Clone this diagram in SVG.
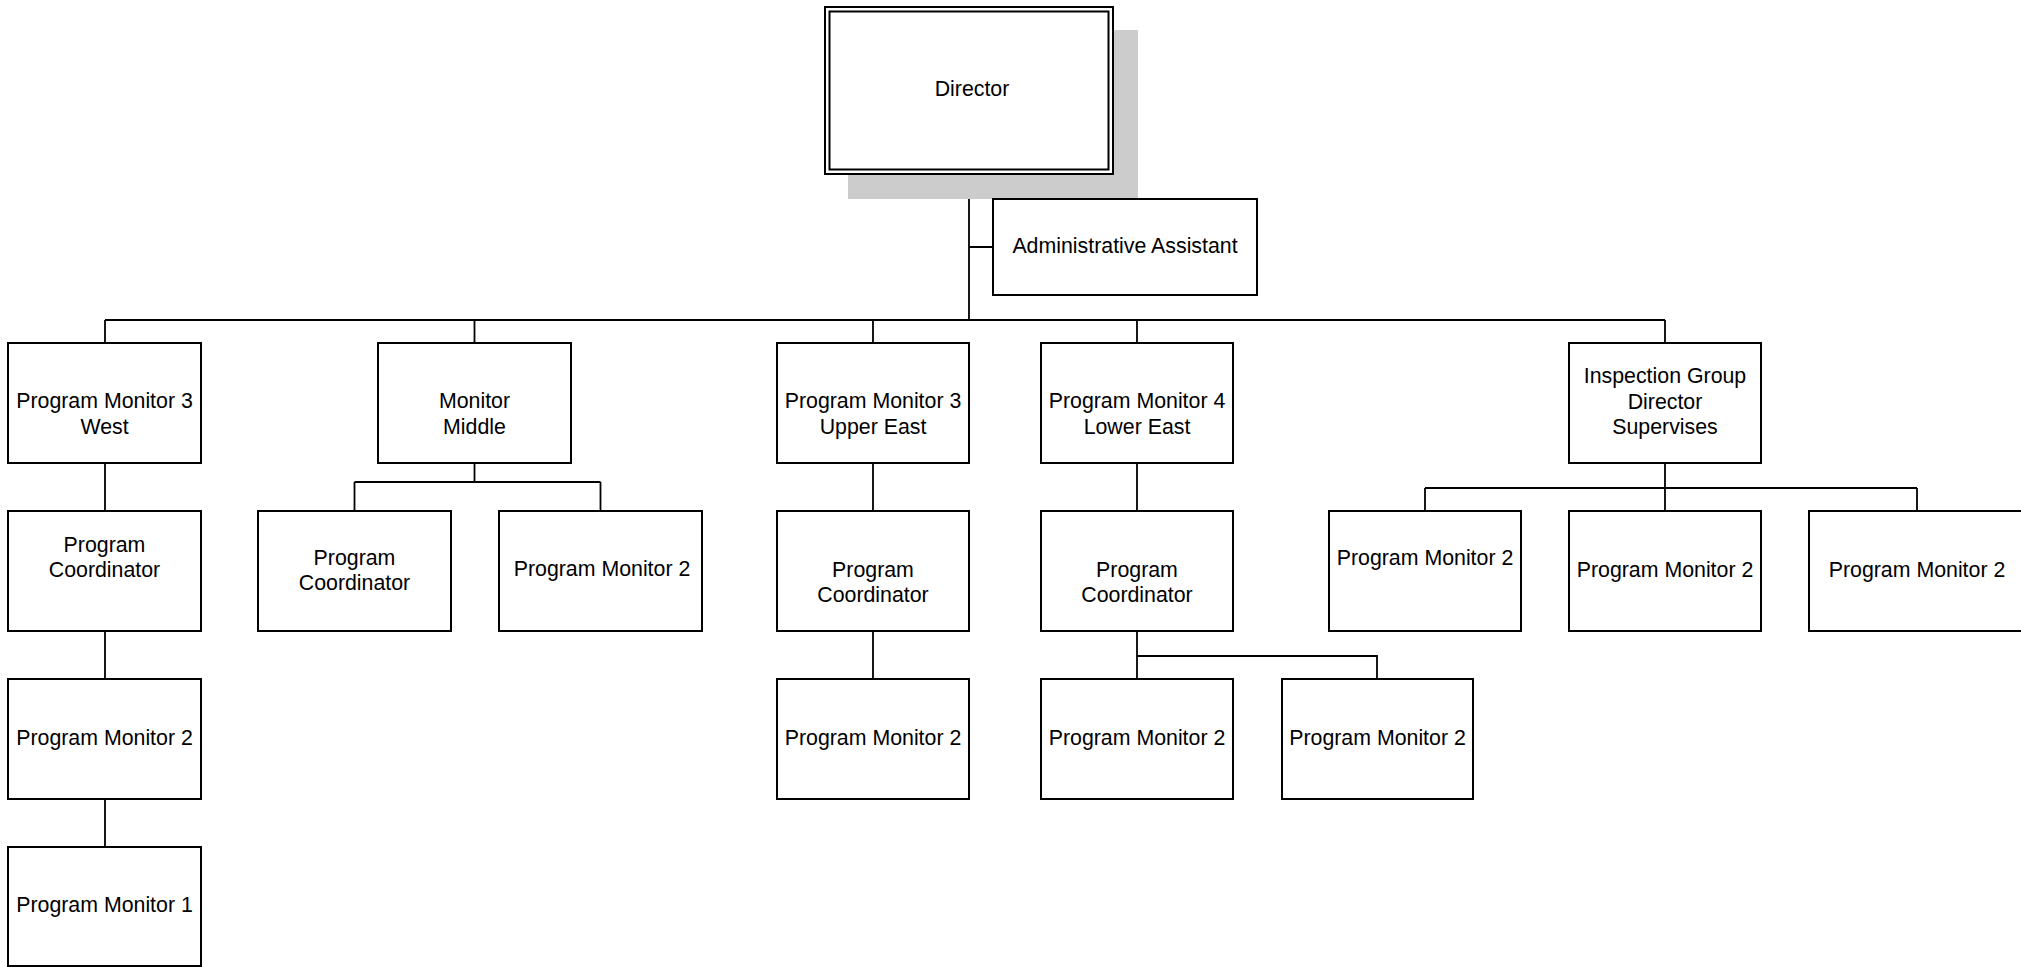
<svg xmlns="http://www.w3.org/2000/svg" width="2021" height="967" viewBox="0 0 2021 967">
<style>
.box{fill:#fff;stroke:#000;stroke-width:2}
.conn{fill:none;stroke:#000;stroke-width:1.8}
text{font-family:"Liberation Sans",Arial,sans-serif;font-size:21.33px;fill:#000;text-anchor:middle}
</style>
<rect width="2021" height="967" fill="#fff"/>
<g id="connectors">
<path class="conn" d="M969 174V320M969 247H993M105 320H1665M105 320V343M474.5 320V343M873 320V343M1137 320V343M1665 320V343"/>
<path class="conn" d="M105 463V511M105 631V679M105 799V847"/>
<path class="conn" d="M474.5 463V482M354.5 482H600.5M354.5 482V511M600.5 482V511"/>
<path class="conn" d="M873 463V511M873 631V679"/>
<path class="conn" d="M1137 463V511M1137 631V679M1137 656H1377V679"/>
<path class="conn" d="M1665 463V488M1425 488H1917M1425 488V511M1665 488V511M1917 488V511"/>
</g>
<g id="director">
<rect x="848" y="30" width="290" height="169" fill="#cccccc"/>
<rect class="box" x="825" y="7" width="288" height="167"/>
<rect class="box" x="829.5" y="11.5" width="279" height="158"/>
<text x="972" y="96">Director</text>
</g>
<g id="admin">
<rect class="box" x="993" y="199" width="264" height="96"/>
<text x="1125" y="253">Administrative Assistant</text>
</g>
<g id="pm3-west">
<rect class="box" x="8" y="343" width="193" height="120"/>
<text x="104.5" y="408">Program Monitor 3</text>
<text x="104.5" y="434">West</text>
</g>
<g id="monitor-middle">
<rect class="box" x="378" y="343" width="193" height="120"/>
<text x="474.5" y="408">Monitor</text>
<text x="474.5" y="434">Middle</text>
</g>
<g id="pm3-upper-east">
<rect class="box" x="777" y="343" width="192" height="120"/>
<text x="873" y="408">Program Monitor 3</text>
<text x="873" y="434">Upper East</text>
</g>
<g id="pm4-lower-east">
<rect class="box" x="1041" y="343" width="192" height="120"/>
<text x="1137" y="408">Program Monitor 4</text>
<text x="1137" y="434">Lower East</text>
</g>
<g id="inspection">
<rect class="box" x="1569" y="343" width="192" height="120"/>
<text x="1665" y="383">Inspection Group</text>
<text x="1665" y="408.5">Director</text>
<text x="1665" y="434">Supervises</text>
</g>
<g id="pc-west">
<rect class="box" x="8" y="511" width="193" height="120"/>
<text x="104.5" y="551.5">Program</text>
<text x="104.5" y="577">Coordinator</text>
</g>
<g id="pc-middle">
<rect class="box" x="258" y="511" width="193" height="120"/>
<text x="354.5" y="565">Program</text>
<text x="354.5" y="590">Coordinator</text>
</g>
<g id="pm2-middle">
<rect class="box" x="499" y="511" width="203" height="120"/>
<text x="602" y="576">Program Monitor 2</text>
</g>
<g id="pc-upper-east">
<rect class="box" x="777" y="511" width="192" height="120"/>
<text x="873" y="576.5">Program</text>
<text x="873" y="602">Coordinator</text>
</g>
<g id="pc-lower-east">
<rect class="box" x="1041" y="511" width="192" height="120"/>
<text x="1137" y="576.5">Program</text>
<text x="1137" y="602">Coordinator</text>
</g>
<g id="pm2-insp-a">
<rect class="box" x="1329" y="511" width="192" height="120"/>
<text x="1425" y="565">Program Monitor 2</text>
</g>
<g id="pm2-insp-b">
<rect class="box" x="1569" y="511" width="192" height="120"/>
<text x="1665" y="576.5">Program Monitor 2</text>
</g>
<g id="pm2-insp-c">
<rect class="box" x="1809" y="511" width="216" height="120"/>
<text x="1917" y="576.5">Program Monitor 2</text>
</g>
<g id="pm2-west">
<rect class="box" x="8" y="679" width="193" height="120"/>
<text x="104.5" y="745">Program Monitor 2</text>
</g>
<g id="pm2-upper-east">
<rect class="box" x="777" y="679" width="192" height="120"/>
<text x="873" y="745">Program Monitor 2</text>
</g>
<g id="pm2-lower-east">
<rect class="box" x="1041" y="679" width="192" height="120"/>
<text x="1137" y="745">Program Monitor 2</text>
</g>
<g id="pm2-lower-east-2">
<rect class="box" x="1282" y="679" width="191" height="120"/>
<text x="1377.5" y="745">Program Monitor 2</text>
</g>
<g id="pm1-west">
<rect class="box" x="8" y="847" width="193" height="119"/>
<text x="104.5" y="912">Program Monitor 1</text>
</g>
</svg>
